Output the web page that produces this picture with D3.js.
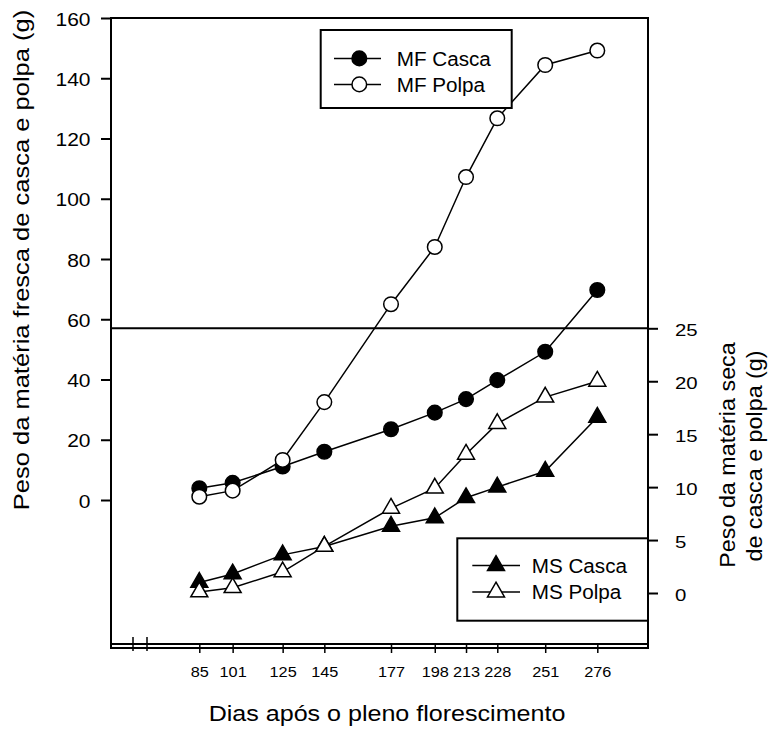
<!DOCTYPE html>
<html><head><meta charset="utf-8">
<script src="https://cdn.jsdelivr.net/npm/d3@7"></script>
<style>
body{margin:0;background:#fff}
svg{display:block}
text{font-family:"Liberation Sans",Arial,Helvetica,sans-serif;fill:#000}
</style>
</head><body>
<svg id="c" width="776" height="731"></svg>
<script>
// ---- data ----
const days = [85,101,125,145,177,198,213,228,251,276];
const mfCasca = [3.9,5.7,11.1,16.0,23.5,29.0,33.5,39.8,49.2,69.7];
const mfPolpa = [1.1,3.1,13.3,32.5,65.0,84.0,107.2,126.7,144.4,149.2];
const msCasca = [1.0,1.8,3.6,4.4,6.3,7.1,9.0,10.0,11.5,16.6];
const msPolpa = [0.1,0.5,2.0,4.4,8.0,9.9,13.1,16.0,18.5,20.0];
const leftTicks = [0,20,40,60,80,100,120,140,160];
const rightTicks = [0,5,10,15,20,25];
const legendUpper = ["MF Casca","MF Polpa"];
const legendLower = ["MS Casca","MS Polpa"];
const xTitle = "Dias após o pleno florescimento";
const yLeftTitle = "Peso da matéria fresca de casca e polpa (g)";
const yRightTitle = ["Peso da matéria seca","de casca e polpa (g)"];

// ---- layout ----
const L = 111, R = 648, T = 18, upperBottom = 644, lowerTop = 328.3, lowerBottom = 648;
const svg = d3.select("#c");

const x = d3.scaleLinear().domain([85,276]).range([199.3,597.3]);
const yL = d3.scaleLinear().domain([0,160]).range([500,18]);
const yR = d3.scaleLinear().domain([0,25]).range([593,328.3]);

function stext(sel, px, py, s, fs, sx, anchor, rot){
  return sel.append("text")
    .attr("transform", `translate(${px},${py}) rotate(${rot||0}) scale(${sx},1)`)
    .attr("text-anchor", anchor).attr("font-size", fs).text(s);
}

const axisStroke = 2;

// frames
const frame = svg.append("g").attr("fill","none").attr("stroke","#000").attr("stroke-width",axisStroke);
// upper plot box
frame.append("path").attr("d", `M${L},${upperBottom}V${T}H${R}V${upperBottom}Z`);
// lower plot box
frame.append("path").attr("d", `M${L},${lowerBottom}V${lowerTop}H${R}V${lowerBottom}Z`);
// axis break marks
frame.append("path").attr("d", `M133,637V651M147,637V651`).attr("stroke-width",1.5);

// left axis
const gL = svg.append("g").attr("transform",`translate(${L},0)`)
  .call(d3.axisLeft(yL).tickValues(leftTicks).tickSize(10).tickFormat(d3.format("d")));
gL.select(".domain").remove();
gL.selectAll(".tick line").attr("stroke-width",axisStroke);
gL.selectAll(".tick text").attr("x",null).attr("dy",null)
  .attr("transform","translate(-20.5,7) scale(1.13,1)")
  .attr("font-size",18.6).attr("font-family",null);

// right axis
const gR = svg.append("g").attr("transform",`translate(${R},0)`)
  .call(d3.axisRight(yR).tickValues(rightTicks).tickSize(10).tickFormat(d3.format("d")));
gR.select(".domain").remove();
gR.selectAll(".tick line").attr("stroke-width",axisStroke);
gR.selectAll(".tick text").attr("x",null).attr("dy",null)
  .attr("transform","translate(27,7.5) scale(1.2,1)")
  .attr("font-size",17).attr("font-family",null).attr("text-anchor","start");

// bottom axis
const gB = svg.append("g").attr("transform",`translate(0,${upperBottom})`)
  .call(d3.axisBottom(x).tickValues(days).tickSize(9).tickFormat(d3.format("d")));
gB.select(".domain").remove();
gB.selectAll(".tick line").attr("stroke-width",1.5);
gB.selectAll(".tick text").attr("y",null).attr("dy",null)
  .attr("transform","translate(0,33) scale(1.05,1)")
  .attr("font-size",15.5).attr("font-family",null);

// titles
stext(svg, 387, 720.7, xTitle, 22, 1.14, "middle");
stext(svg, 29, 260, yLeftTitle, 22, 1.16, "middle", -90);
stext(svg, 735, 455, yRightTitle[0], 22, 1.06, "middle", -90);
stext(svg, 762, 456, yRightTitle[1], 22, 1.06, "middle", -90);

// series
const series = [
  {vals: mfCasca, y: yL, shape: "circle", fill: "#000"},
  {vals: mfPolpa, y: yL, shape: "circle", fill: "#fff"},
  {vals: msCasca, y: yR, shape: "tri", fill: "#000"},
  {vals: msPolpa, y: yR, shape: "tri", fill: "#fff"}
];
const triPath = d3.symbol(d3.symbolTriangle, 125)();
const lineG = svg.append("g");
series.forEach(s => {
  const pts = days.map((d,i) => [x(d), s.y(s.vals[i])]);
  lineG.append("path").attr("d", d3.line()(pts)).attr("fill","none").attr("stroke","#000").attr("stroke-width",1.5);
});
const markG = svg.append("g");
function marker(g, px, py, shape, fill){
  if(shape==="circle"){
    g.append("circle").attr("cx",px).attr("cy",py).attr("r",7.3)
      .attr("fill",fill).attr("stroke","#000").attr("stroke-width",1.5);
  } else {
    g.append("path").attr("d",triPath).attr("transform",`translate(${px},${py})`)
      .attr("fill",fill).attr("stroke","#000").attr("stroke-width",1.5);
  }
}
series.forEach(s => {
  days.forEach((d,i) => marker(markG, x(d), s.y(s.vals[i]), s.shape, s.fill));
});

// legends
function legend(box, items, shapes, fills, lx0, lx1, mx, tx, baselines){
  svg.append("rect").attr("x",box[0]).attr("y",box[1]).attr("width",box[2]-box[0]).attr("height",box[3]-box[1])
    .attr("fill","#fff").attr("stroke","#000").attr("stroke-width",axisStroke);
  items.forEach((it,i) => {
    const cy = baselines[i] - 7.3;
    svg.append("line").attr("x1",lx0).attr("x2",lx1).attr("y1",cy).attr("y2",cy)
      .attr("stroke","#000").attr("stroke-width",1.5);
    marker(svg, mx, cy, shapes[i], fills[i]);
    stext(svg, tx, baselines[i], it, 19.5, 1.06, "start");
  });
}
legend([320.7,30,511.7,108], legendUpper, ["circle","circle"], ["#000","#fff"], 334, 381, 359.3, 396.7, [65.7,91.7]);
legend([457.3,538.3,R,620.7], legendLower, ["tri","tri"], ["#000","#fff"], 472.3, 520, 496, 531.7, [572.8,599.3]);
</script>
</body></html>
